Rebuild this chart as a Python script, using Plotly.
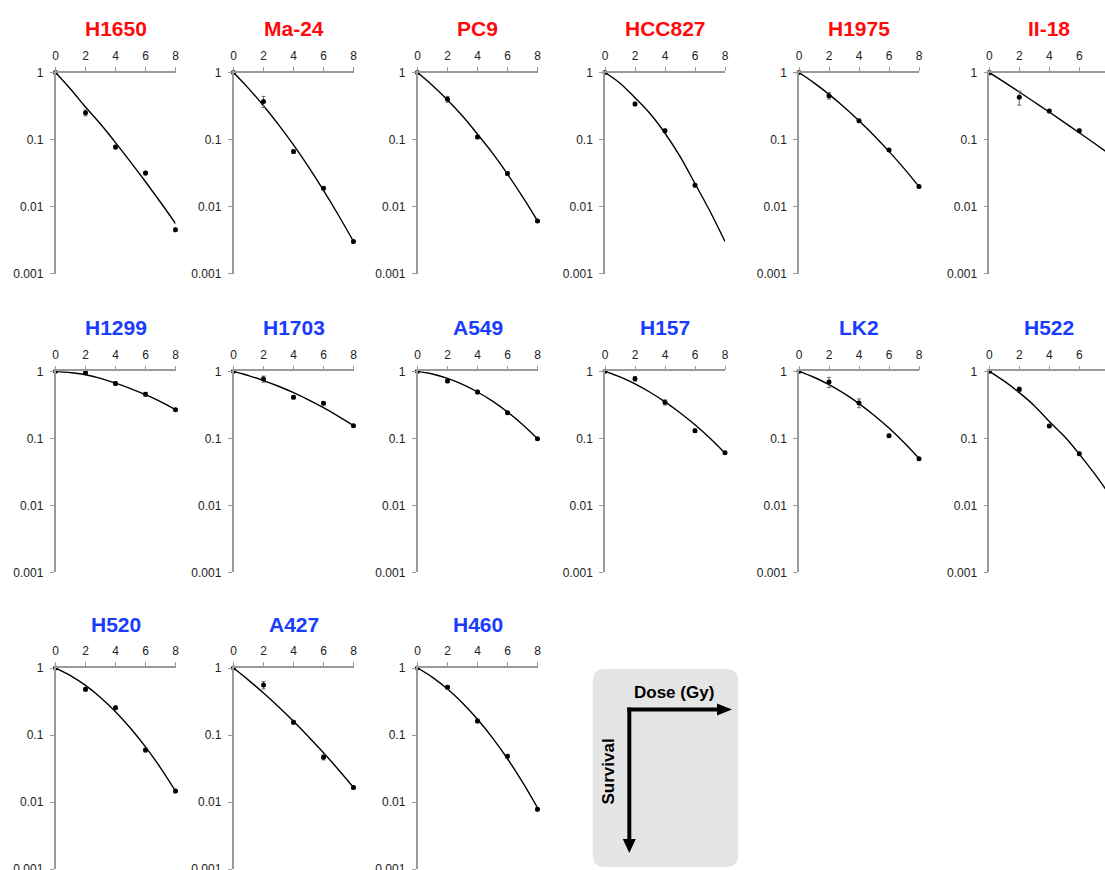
import plotly.graph_objects as go

# ---------------- data ----------------
cell_lines = ["H1650", "Ma-24", "PC9", "HCC827", "H1975", "II-18",
              "H1299", "H1703", "A549", "H157", "LK2", "H522",
              "H520", "A427", "H460"]
egfr_status = ["mutant"] * 6 + ["wild-type"] * 9

dose = [0, 2, 4, 6, 8]                      # Gy, measured points
curve_dose = [0, 1, 2, 3, 4, 5, 6, 7, 8]    # Gy, fitted curve samples
dose_ticks = [0, 2, 4, 6, 8]
surv_ticks = [1, 0.1, 0.01, 0.001]
surv_tick_text = ["1", "0.1", "0.01", "0.001"]

surv_H1650 = [1, 0.25, 0.077, 0.0315, 0.0045]
surv_Ma24 = [1, 0.37, 0.066, 0.0188, 0.0030]
surv_PC9 = [1, 0.40, 0.109, 0.031, 0.0061]
surv_HCC827 = [1, 0.339, 0.135, 0.0207]
surv_H1975 = [1, 0.451, 0.191, 0.0697, 0.0198]
surv_II18 = [1, 0.426, 0.266, 0.135]
surv_H1299 = [1, 0.95, 0.66, 0.454, 0.267]
surv_H1703 = [1, 0.767, 0.409, 0.333, 0.154]
surv_A549 = [1, 0.716, 0.491, 0.241, 0.0987]
surv_H157 = [1, 0.776, 0.344, 0.130, 0.061]
surv_LK2 = [1, 0.692, 0.336, 0.109, 0.0497]
surv_H522 = [1, 0.539, 0.153, 0.059]
surv_H520 = [1, 0.481, 0.256, 0.0597, 0.0146]
surv_A427 = [1, 0.557, 0.155, 0.0465, 0.0164]
surv_H460 = [1, 0.515, 0.162, 0.048, 0.0078]

err_H1650 = [0, 0.025, 0.005, 0.002, 0.0003]
err_Ma24 = [0, 0.07, 0.004, 0.001, 0.0002]
err_PC9 = [0, 0.04, 0.006, 0.002, 0.0003]
err_HCC827 = [0, 0.02, 0.008, 0.001]
err_H1975 = [0, 0.05, 0.01, 0.003, 0.001]
err_II18 = [0.08, 0.1, 0.015, 0.008]
err_H1299 = [0, 0.04, 0.04, 0.03, 0.01]
err_H1703 = [0, 0.08, 0.02, 0.02, 0.008]
err_A549 = [0, 0.04, 0.03, 0.01, 0.004]
err_H157 = [0, 0.06, 0.03, 0.008, 0.003]
err_LK2 = [0.03, 0.12, 0.05, 0.006, 0.003]
err_H522 = [0, 0.04, 0.008, 0.003]
err_H520 = [0, 0.03, 0.015, 0.004, 0.001]
err_A427 = [0, 0.07, 0.01, 0.004, 0.001]
err_H460 = [0, 0.03, 0.01, 0.003, 0.0005]

fit_H1650 = [1, 0.567, 0.305, 0.170, 0.090, 0.0464, 0.0234, 0.01156, 0.00558]
fit_Ma24 = [1, 0.580, 0.319, 0.167, 0.083, 0.039, 0.0174, 0.0074, 0.0030]
fit_PC9 = [1, 0.642, 0.39, 0.224, 0.120, 0.0627, 0.0305, 0.0140, 0.0061]
fit_HCC827 = [1, 0.692, 0.42, 0.244, 0.124, 0.0560, 0.022, 0.0085, 0.0030]
fit_H1975 = [1, 0.700, 0.472, 0.306, 0.191, 0.115, 0.0665, 0.0371, 0.0198]
fit_II18 = [1, 0.717, 0.512, 0.363, 0.257, 0.180, 0.126, 0.0878, 0.0608]
fit_H1299 = [1, 0.955, 0.89, 0.785, 0.665, 0.553, 0.447, 0.352, 0.267]
fit_H1703 = [1, 0.864, 0.728, 0.598, 0.48, 0.375, 0.286, 0.213, 0.155]
fit_A549 = [1, 0.910, 0.784, 0.638, 0.491, 0.358, 0.247, 0.161, 0.0987]
fit_H157 = [1, 0.823, 0.647, 0.487, 0.35, 0.241, 0.159, 0.0999, 0.06]
fit_LK2 = [1, 0.815, 0.633, 0.468, 0.33, 0.221, 0.142, 0.0863, 0.05]
fit_H522 = [1, 0.712, 0.48, 0.307, 0.178, 0.107, 0.058, 0.0299, 0.0146]
fit_H520 = [1, 0.771, 0.55, 0.364, 0.223, 0.126, 0.0665, 0.0324, 0.0146]
fit_A427 = [1, 0.659, 0.422, 0.264, 0.16, 0.0944, 0.0543, 0.0303, 0.0165]
fit_H460 = [1, 0.726, 0.487, 0.301, 0.172, 0.0907, 0.0442, 0.0198, 0.00823]

survival = [surv_H1650, surv_Ma24, surv_PC9, surv_HCC827, surv_H1975, surv_II18,
            surv_H1299, surv_H1703, surv_A549, surv_H157, surv_LK2, surv_H522,
            surv_H520, surv_A427, surv_H460]
errors = [err_H1650, err_Ma24, err_PC9, err_HCC827, err_H1975, err_II18,
          err_H1299, err_H1703, err_A549, err_H157, err_LK2, err_H522,
          err_H520, err_A427, err_H460]
fits = [fit_H1650, fit_Ma24, fit_PC9, fit_HCC827, fit_H1975, fit_II18,
        fit_H1299, fit_H1703, fit_A549, fit_H157, fit_LK2, fit_H522,
        fit_H520, fit_A427, fit_H460]

# ---------------- layout geometry (pixels) ----------------
W, H = 1105, 870
col_px = [55.5, 233.5, 417.5, 605, 799, 989.3]
row_top_px = [72.5, 371.3, 668]
title_px = [28, 327, 624]
panel_w = 120      # 0..8 Gy
panel_h = 201      # 3 decades
FONT = "Liberation Sans, Arial, sans-serif"
AXIS_GRAY = "#9a9a9a"
status_color = {"mutant": "#ff0a0a", "wild-type": "#1a3cff"}


def px_x(p):
    return p / W


def px_y(p):
    return 1 - p / H


fig = go.Figure()
layout_axes = {}
annotations = []

for i, name in enumerate(cell_lines):
    r, c = divmod(i, 6)
    k = i + 1
    xa = "x" if k == 1 else f"x{k}"
    ya = "y" if k == 1 else f"y{k}"
    x0 = col_px[c]
    x1 = min(x0 + panel_w, W)
    xmax = 8 * (x1 - x0) / panel_w
    ytop = row_top_px[r]
    ybot = ytop + panel_h

    s = survival[i]
    fig.add_trace(go.Scatter(
        x=curve_dose, y=fits[i], mode="lines",
        line=dict(color="black", width=1.4, shape="spline", smoothing=1.0),
        xaxis=xa, yaxis=ya, hoverinfo="skip", showlegend=False))
    fig.add_trace(go.Scatter(
        x=dose[:len(s)], y=s, mode="markers",
        marker=dict(color="black", size=5),
        error_y=dict(type="data", array=errors[i], color="#666",
                     thickness=1, width=2),
        cliponaxis=False, xaxis=xa, yaxis=ya, name=name, showlegend=False))

    layout_axes["xaxis" if k == 1 else f"xaxis{k}"] = dict(
        domain=[px_x(x0), px_x(x1)], range=[0, xmax], anchor=ya, side="top",
        tickvals=dose_ticks, ticks="outside", ticklen=4, tickwidth=1,
        tickcolor=AXIS_GRAY, showline=True, linecolor=AXIS_GRAY, linewidth=1.5,
        showgrid=False, zeroline=False, ticklabelstandoff=2,
        automargin=False, ticklabeloverflow="allow",
        tickfont=dict(family=FONT, size=12, color="#222"), fixedrange=True)
    layout_axes["yaxis" if k == 1 else f"yaxis{k}"] = dict(
        domain=[max(px_y(ybot), 0), px_y(ytop)], type="log", range=[-3, 0],
        anchor=xa, tickvals=surv_ticks, ticktext=surv_tick_text,
        ticks="outside", ticklen=4, tickwidth=1, tickcolor=AXIS_GRAY,
        showline=True, linecolor=AXIS_GRAY, linewidth=1.5, showgrid=False,
        zeroline=False, ticklabelstandoff=4,
        automargin=False, ticklabeloverflow="allow",
        tickfont=dict(family=FONT, size=12, color="#222"), fixedrange=True)

    annotations.append(dict(
        text=f"<b>{name}</b>", xref="paper", yref="paper",
        x=px_x(x0 + panel_w / 2), y=px_y(title_px[r]),
        xanchor="center", yanchor="middle", showarrow=False,
        font=dict(family=FONT, size=21, color=status_color[egfr_status[i]])))

# ---------------- key box (axis orientation legend) ----------------
bx0, bx1, by0, by1, rad = 592.7, 738.3, 669, 867, 12


def P(x, y):
    return f"{px_x(x):.5f},{px_y(y):.5f}"


box_path = (f"M {P(bx0 + rad, by0)} L {P(bx1 - rad, by0)} Q {P(bx1, by0)} {P(bx1, by0 + rad)} "
            f"L {P(bx1, by1 - rad)} Q {P(bx1, by1)} {P(bx1 - rad, by1)} "
            f"L {P(bx0 + rad, by1)} Q {P(bx0, by1)} {P(bx0, by1 - rad)} "
            f"L {P(bx0, by0 + rad)} Q {P(bx0, by0)} {P(bx0 + rad, by0)} Z")

cx, cy = 629.3, 709.5
shapes = [
    dict(type="path", path=box_path, xref="paper", yref="paper",
         fillcolor="#e5e5e5", line=dict(width=0), layer="below"),
    dict(type="line", xref="paper", yref="paper",
         x0=px_x(cx - 2), y0=px_y(cy), x1=px_x(719), y1=px_y(cy),
         line=dict(color="black", width=4)),
    dict(type="line", xref="paper", yref="paper",
         x0=px_x(cx), y0=px_y(cy - 2), x1=px_x(cx), y1=px_y(842),
         line=dict(color="black", width=4)),
    dict(type="path", xref="paper", yref="paper",
         path=f"M {P(717, cy - 6)} L {P(732, cy)} L {P(717, cy + 6)} Z",
         fillcolor="black", line=dict(width=0)),
    dict(type="path", xref="paper", yref="paper",
         path=f"M {P(cx - 6.5, 839)} L {P(cx, 853)} L {P(cx + 6.5, 839)} Z",
         fillcolor="black", line=dict(width=0)),
]

annotations.append(dict(
    text="<b>Dose (Gy)</b>", xref="paper", yref="paper",
    x=px_x(674), y=px_y(692), xanchor="center", yanchor="middle",
    showarrow=False, font=dict(family=FONT, size=17, color="black")))
annotations.append(dict(
    text="<b>Survival</b>", xref="paper", yref="paper",
    x=px_x(608), y=px_y(771.5), xanchor="center", yanchor="middle",
    textangle=-90, showarrow=False,
    font=dict(family=FONT, size=17, color="black")))

fig.update_layout(
    template="none",
    width=W, height=H, margin=dict(l=0, r=0, t=0, b=0, pad=0),
    paper_bgcolor="white", plot_bgcolor="rgba(0,0,0,0)",
    showlegend=False, annotations=annotations, shapes=shapes,
    font=dict(family=FONT), **layout_axes)

fig.write_html("out.html",
               config={"displayModeBar": False},
               post_script="document.body.style.margin='0';document.body.style.overflow='hidden';")
